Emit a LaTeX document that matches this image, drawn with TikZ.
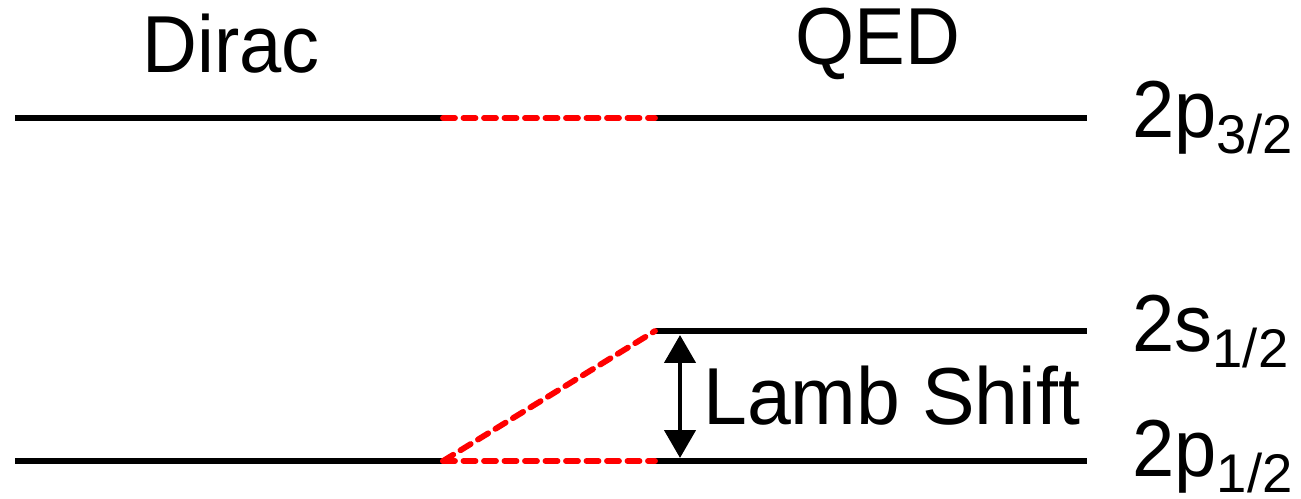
\documentclass[tikz,border=0pt]{standalone}
\usepackage{fontspec}
\setmainfont{Liberation Sans}[FakeStretch=0.94]
\newfontfamily\lambfont{Liberation Sans}[FakeStretch=0.975]
\newfontfamily\subfont{Liberation Sans}
\usetikzlibrary{arrows.meta}

\newcommand{\lvlsub}[1]{\raisebox{-0.31cm}{\subfont\fontsize{31}{31}\selectfont #1}}

\begin{document}
\begin{tikzpicture}[
  x=0.02cm, y=-0.02cm,
  font=\fontsize{46}{50}\selectfont,
  level/.style={
    line width=3.3pt,
    draw=black,
    line cap=butt
  },
  moved/.style={
    line width=3.3pt,
    draw=red,
    line cap=round,
    dash pattern=on 0.24cm off 0.17cm
  },
  gap/.style={
    {Triangle[width=0.62cm,length=0.56cm]}-{Triangle[width=0.62cm,length=0.56cm]},
    line width=2.6pt
  },
  lbl/.style={
    anchor=base west,
    inner sep=0pt
  }
]

\useasboundingbox (0,0) rectangle (1301,499);

% levels
\coordinate (P3a) at (15,118);
\coordinate (P3b) at (443,118);
\coordinate (P3c) at (655,118);
\coordinate (P3d) at (1087,118);
\coordinate (P1a) at (15,461);
\coordinate (P1b) at (443,461);
\coordinate (P1c) at (655,461);
\coordinate (P1d) at (1087,461);
\coordinate (S1c) at (655,331);
\coordinate (S1d) at (1087,331);

\node[lbl] (dirac) at (142,73) {Dirac};
\node[lbl] (qed) at (795,65) {QED};
\node[lbl] (p32) at (1132,138) {2p\lvlsub{3/2}};
\node[lbl] (s12) at (1132,352) {2s\lvlsub{1/2}};
\node[lbl] (p12) at (1132,477) {2p\lvlsub{1/2}};
\node[lbl, font=\lambfont\fontsize{46}{50}\selectfont] (lamb) at (703,425) {Lamb Shift};

\draw[level] (P3a) -- (P3b);
\draw[level] (P3c) -- (P3d);
\draw[level] (P1a) -- (P1b);
\draw[level] (P1c) -- (P1d);
\draw[level] (S1c) -- (S1d);

\draw[moved] (P3b) -- (P3c);
\draw[moved] (P1b) -- (P1c);
\draw[moved] (P1b) -- (S1c);

\coordinate (top) at (680,335);
\coordinate (bot) at (680,458);
\draw[gap] (top) -- (bot);

\end{tikzpicture}
\end{document}
